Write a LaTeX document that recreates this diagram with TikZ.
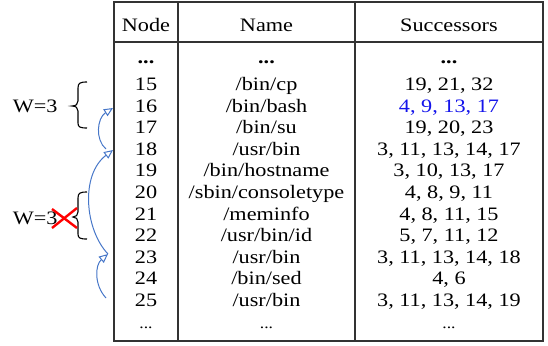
\documentclass[tikz,border=0pt]{standalone}
\usepackage{fontspec}
\setmainfont{Liberation Serif}[FakeStretch=1.17]
\usetikzlibrary{arrows.meta}

\definecolor{jumpblue}{RGB}{70,118,200}
\definecolor{succblue}{RGB}{20,20,235}

% one table row: key, baseline y, node number, path name, successor list
\newcommand\maketabrow[5]{%
  \node[cell] (num#1)  at (146,#2)   {#3};
  \node[cell] (name#1) at (266.5,#2) {#4};
  \node[cell] (succ#1) at (449,#2)   {#5};
}

\begin{document}
\begin{tikzpicture}[x=1bp,y=-1bp,
  cell/.style={anchor=base,inner sep=0pt,font=\fontsize{19bp}{21bp}\selectfont},
  grid/.style={line width=1.2bp,draw=black!80},
  jump/.style={draw=jumpblue,line width=1bp,-{Triangle[open,length=9bp,width=8bp]}},
  bracepath/.style={line width=1.1bp,draw=black},
  label/.style={anchor=base west,inner sep=0pt,font=\fontsize{19bp}{21bp}\selectfont}]
\useasboundingbox (0,0) rectangle (548,345);

% table frame and rules
\draw[grid] (114,2) rectangle (543,341);
\draw[grid] (114,42) -- (543,42);
\draw[grid] (178,2) -- (178,341);
\draw[grid] (355,2) -- (355,341);

% header
\node[cell] (hnode) at (146,31.7)   {Node};
\node[cell] (hname) at (266.5,31.7) {Name};
\node[cell] (hsucc) at (449,31.7)   {Successors};

% leading ellipsis row
\node[cell] (numtop)  at (146,63)   {\textbf{...}};
\node[cell] (nametop) at (266.5,63) {\textbf{...}};
\node[cell] (succtop) at (449,63)   {\textbf{...}};

% body rows
\maketabrow{15}{90.4}{15}{/bin/cp}{19, 21, 32}
\maketabrow{16}{112.0}{16}{/bin/bash}{\textcolor{succblue}{4, 9, 13, 17}}
\maketabrow{17}{133.6}{17}{/bin/su}{19, 20, 23}
\maketabrow{18}{155.2}{18}{/usr/bin}{3, 11, 13, 14, 17}
\maketabrow{19}{176.8}{19}{/bin/hostname}{3, 10, 13, 17}
\maketabrow{20}{198.4}{20}{/sbin/consoletype}{4, 8, 9, 11}
\maketabrow{21}{220.0}{21}{/meminfo}{4, 8, 11, 15}
\maketabrow{22}{241.6}{22}{/usr/bin/id}{5, 7, 11, 12}
\maketabrow{23}{263.2}{23}{/usr/bin}{3, 11, 13, 14, 18}
\maketabrow{24}{284.8}{24}{/bin/sed}{4, 6}
\maketabrow{25}{306.4}{25}{/usr/bin}{3, 11, 13, 14, 19}

% trailing ellipsis row
\node[cell,font=\fontsize{15bp}{17bp}\selectfont] (numend)  at (146,328)   {...};
\node[cell,font=\fontsize{15bp}{17bp}\selectfont] (nameend) at (266.5,328) {...};
\node[cell,font=\fontsize{15bp}{17bp}\selectfont] (succend) at (449,328)   {...};

% window labels
\node[label] (win1) at (12.7,112.3) {W=3};
\node[label] (win2) at (12.7,224.3) {W=3};

% braces
\draw[bracepath] (87,82) .. controls (80,82) and (78,83) .. (78,88) -- (78,101)
  .. controls (78,104) and (76,106) .. (72,106)
  .. controls (76,106) and (78,108) .. (78,111) -- (78,123)
  .. controls (78,127) and (80,128) .. (87,128);
\draw[bracepath] (87,192) .. controls (80,192) and (78,193) .. (78,198) -- (78,212)
  .. controls (78,215) and (76,217) .. (73,217)
  .. controls (76,217) and (78,219) .. (78,222) -- (78,234)
  .. controls (78,238) and (80,239) .. (87,239);

% red cross over the rejected window
\draw[red,line width=2.4bp] (52,209) -- (77,228);
\draw[red,line width=2.4bp] (52,228) -- (77,208);

% jump arrows along the left border
\coordinate (a25) at (106,298);
\coordinate (a23) at (108,254);
\coordinate (a18) at (113,150);
\coordinate (a18s) at (106,149);
\coordinate (a16) at (113,108);
\draw[jump] (a25) .. controls (94,285) and (95,265) .. (a23);
\draw[jump] (a23) .. controls (85,230) and (80,175) .. (a18);
\draw[jump] (a18s) .. controls (95,140) and (97,118) .. (a16);
\end{tikzpicture}
\end{document}
